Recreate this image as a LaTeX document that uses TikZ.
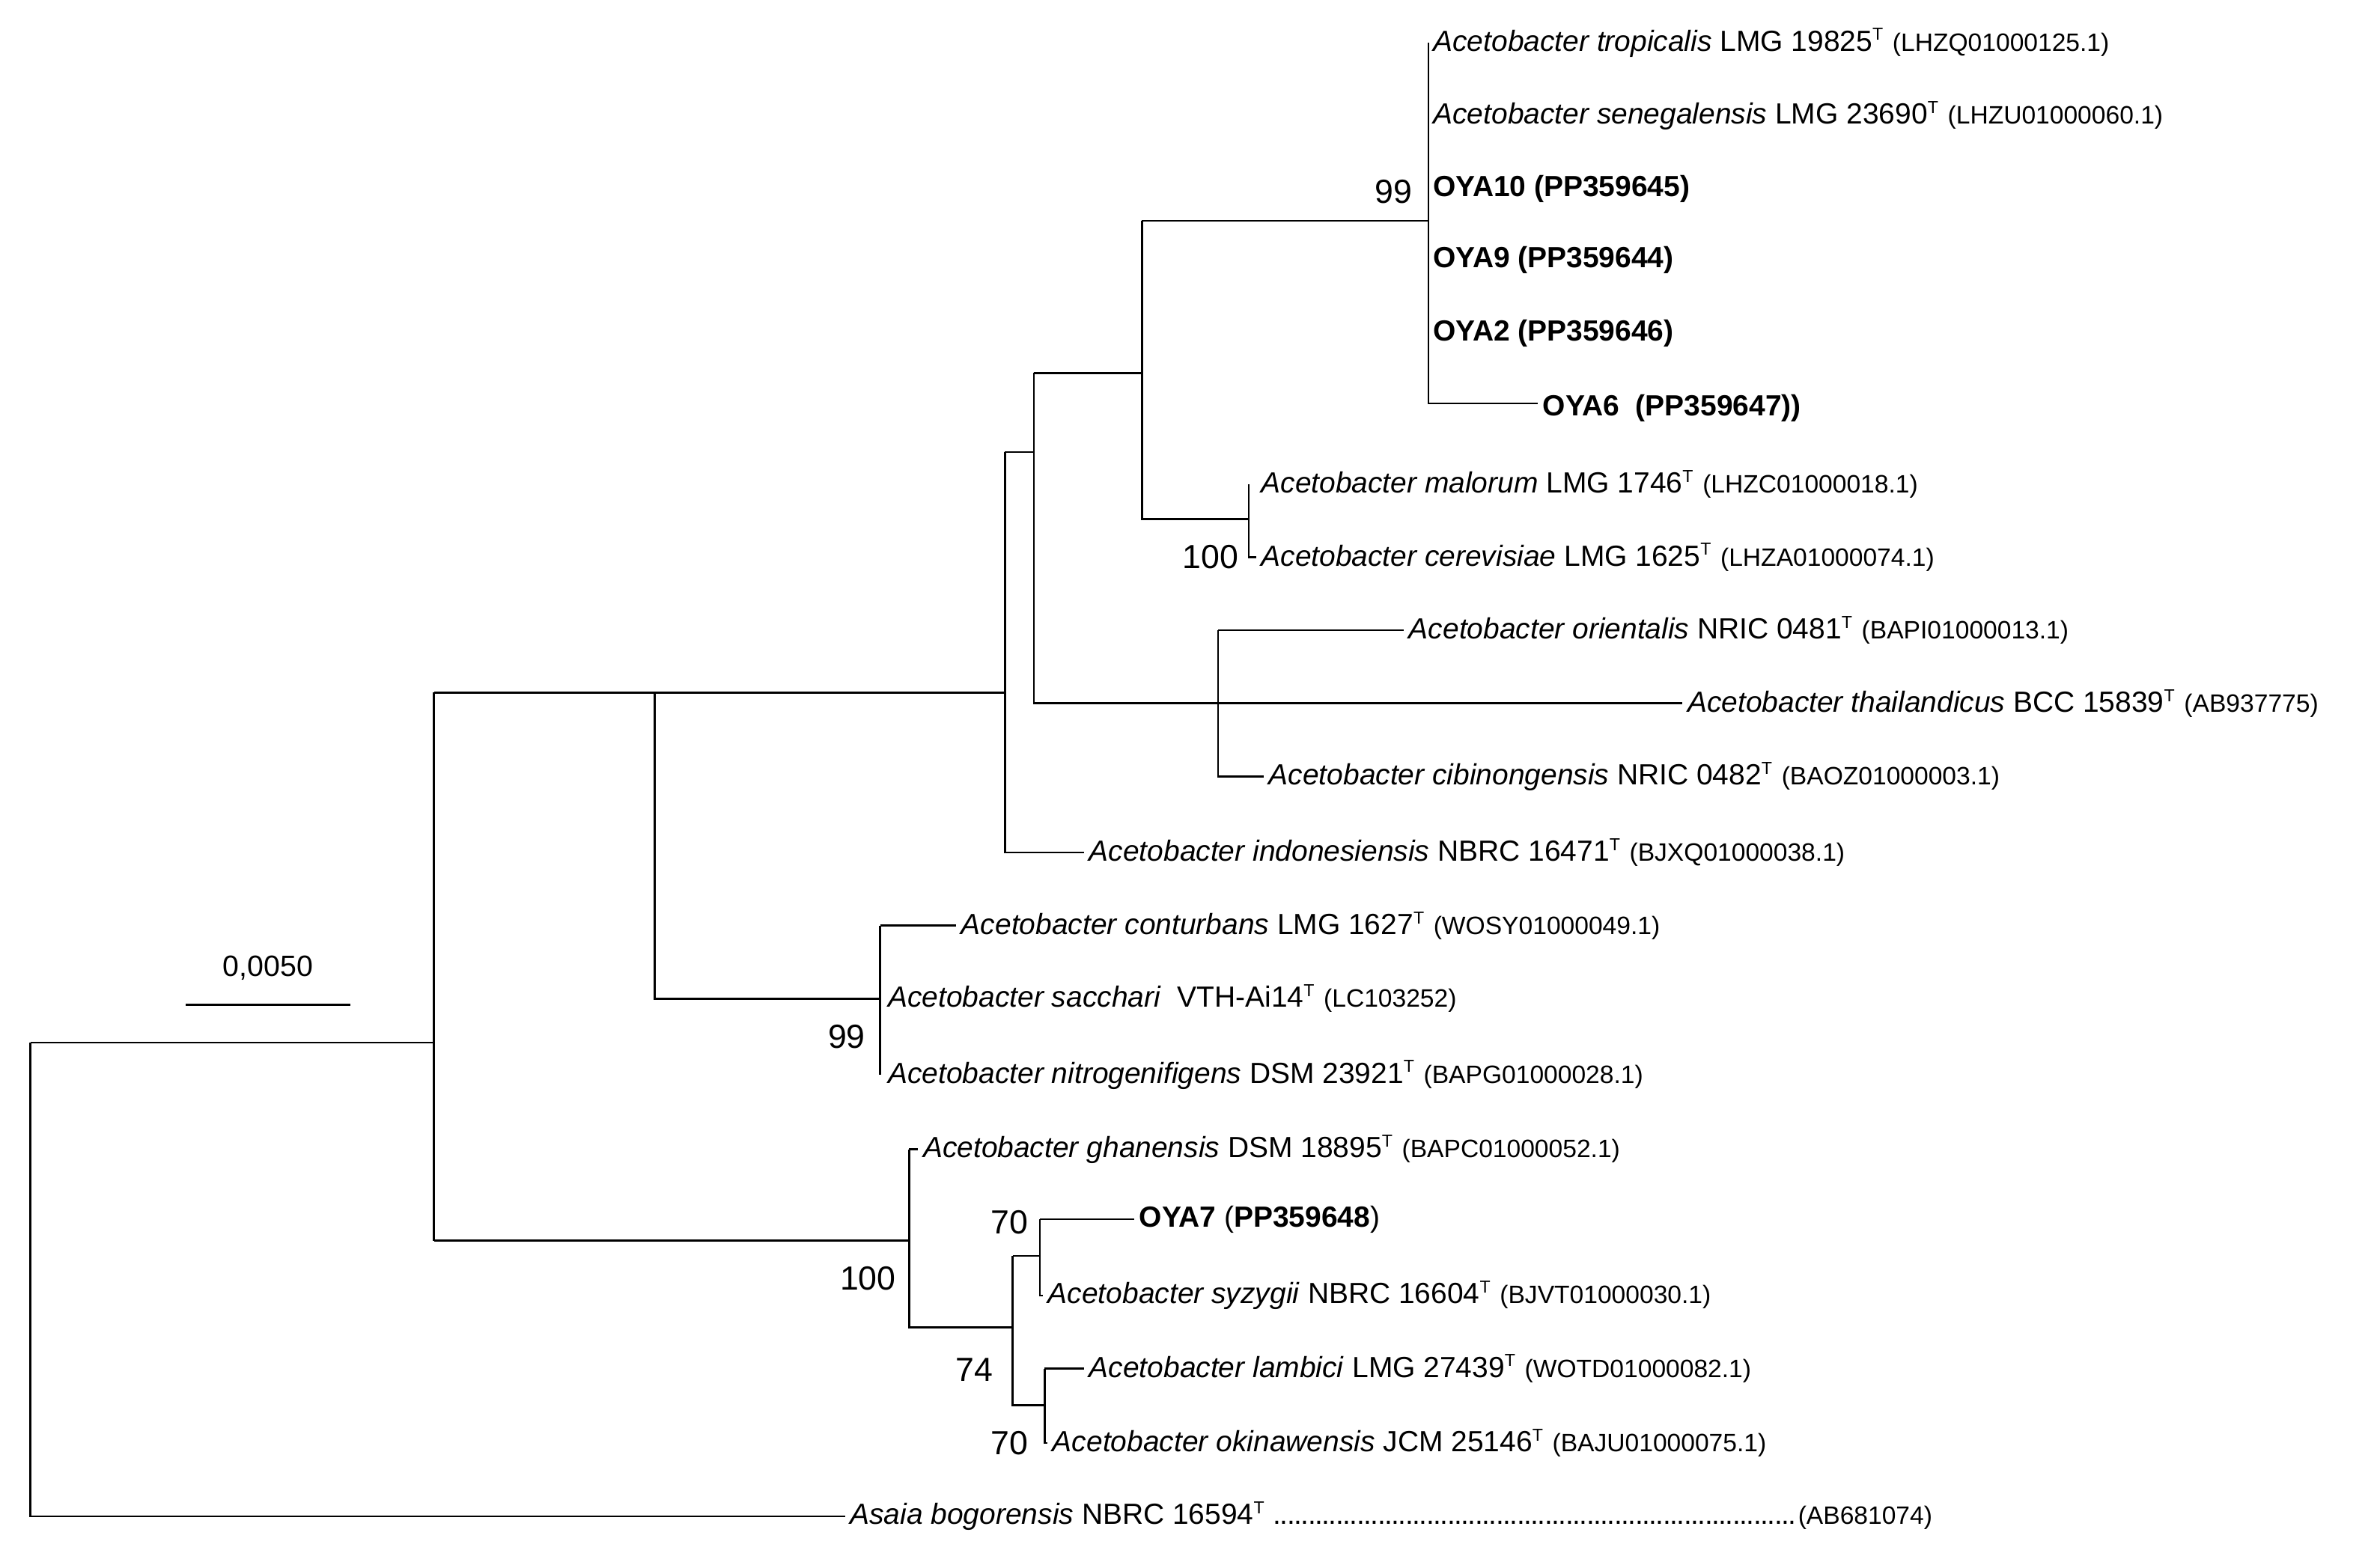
\documentclass[tikz,border=0pt]{standalone}
\usepackage{fontspec}
\setmainfont{Liberation Sans}
\begin{document}
\begin{tikzpicture}[x=0.02cm,y=-0.02cm,line width=0.7pt,
  lab/.style={anchor=west,inner sep=1.5pt,font=\fontsize{10.9}{12}\selectfont},
  bs/.style={font=\fontsize{12.5}{14}\selectfont,inner sep=1pt}]
\useasboundingbox (0,0) rectangle (1563,1028);
\newcommand{\acc}[1]{{\fontsize{9.4}{10}\selectfont(#1)}}
\newcommand{\Tm}{\textsuperscript{\fontsize{6.5}{7}\selectfont T}}
\newcommand{\dts}{\leaders\hbox to 2.6pt{\hss.\hss}\hfill}
% internal nodes
\coordinate (r1) at (20,685); \coordinate (r2) at (20,996);
\coordinate (a1) at (285,455); \coordinate (a2) at (285,815);
\coordinate (b1) at (430,455); \coordinate (b2) at (430,656);
\coordinate (c1) at (660,297); \coordinate (c2) at (660,560);
\coordinate (d1) at (679,245); \coordinate (d2) at (679,462);
\coordinate (e1) at (750,145); \coordinate (e2) at (750,341);
\coordinate (f1) at (938,28); \coordinate (f2) at (938,265);
\coordinate (g1) at (820,318); \coordinate (g2) at (820,366);
\coordinate (h1) at (800,414); \coordinate (h2) at (800,510);
\coordinate (s1) at (578,608); \coordinate (s2) at (578,706);
\coordinate (k1) at (597,755); \coordinate (k2) at (597,872);
\coordinate (m1) at (665,825); \coordinate (m2) at (665,923);
\coordinate (n1) at (683,801); \coordinate (n2) at (683,851);
\coordinate (p1) at (686,899); \coordinate (p2) at (686,948);
% leaves
\node[lab] (L1) at (938,28) {\textit{Acetobacter tropicalis} LMG 19825\Tm{} \acc{LHZQ01000125.1}};
\node[lab] (L2) at (938,76) {\textit{Acetobacter senegalensis} LMG 23690\Tm{} \acc{LHZU01000060.1}};
\node[lab] (L3) at (938,124) {\textbf{OYA10 (PP359645)}};
\node[lab] (L4) at (938,171) {\textbf{OYA9 (PP359644)}};
\node[lab] (L5) at (938,219) {\textbf{OYA2 (PP359646)}};
\node[lab] (L6) at (1010,268) {\textbf{OYA6\ \ (PP359647))}};
\node[lab] (L7) at (825,318) {\textit{Acetobacter malorum} LMG 1746\Tm{} \acc{LHZC01000018.1}};
\node[lab] (L8) at (825,366) {\textit{Acetobacter cerevisiae} LMG 1625\Tm{} \acc{LHZA01000074.1}};
\node[lab] (L9) at (922,414) {\textit{Acetobacter orientalis} NRIC 0481\Tm{} \acc{BAPI01000013.1}};
\node[lab] (L10) at (1105,462) {\textit{Acetobacter thailandicus} BCC 15839\Tm{} \acc{AB937775}};
\node[lab] (L11) at (830,510) {\textit{Acetobacter cibinongensis} NRIC 0482\Tm{} \acc{BAOZ01000003.1}};
\node[lab] (L12) at (712,560) {\textit{Acetobacter indonesiensis} NBRC 16471\Tm{} \acc{BJXQ01000038.1}};
\node[lab] (L13) at (628,608) {\textit{Acetobacter conturbans} LMG 1627\Tm{} \acc{WOSY01000049.1}};
\node[lab] (L14) at (580,656) {\textit{Acetobacter sacchari}\ \ VTH-Ai14\Tm{} \acc{LC103252}};
\node[lab] (L15) at (580,706) {\textit{Acetobacter nitrogenifigens} DSM 23921\Tm{} \acc{BAPG01000028.1}};
\node[lab] (L16) at (603,755) {\textit{Acetobacter ghanensis} DSM 18895\Tm{} \acc{BAPC01000052.1}};
\node[lab] (L17) at (745,801) {\textbf{OYA7} (\textbf{PP359648})};
\node[lab] (L18) at (685,851) {\textit{Acetobacter syzygii} NBRC 16604\Tm{} \acc{BJVT01000030.1}};
\node[lab] (L19) at (712,899) {\textit{Acetobacter lambici} LMG 27439\Tm{} \acc{WOTD01000082.1}};
\node[lab] (L20) at (688,948) {\textit{Acetobacter okinawensis} JCM 25146\Tm{} \acc{BAJU01000075.1}};
\node[lab] (L21) at (555,996) {\textit{Asaia bogorensis} NBRC 16594\Tm{} \hbox to 196pt{\dts}\acc{AB681074}};
% branches
\draw (r1) -- (r2) -- (L21.west);
\draw (r1) -- (285,685);
\draw (a1) -- (a2);
\draw (a1) -- (b1) -- (b2) -- (s1 |- b2);
\draw (b1) -- (c1 |- b1);
\draw (c1) -- (c2) -- (L12.west);
\draw (c1) -- (d1 |- c1);
\draw (d1) -- (d2) -- (h1 |- d2);
\draw (d1) -- (e1 |- d1);
\draw (e1) -- (e2) -- (g1 |- e2);
\draw (e1) -- (f1 |- e1);
\draw (f1) -- (f2) -- (L6.west |- f2);
\draw (g1) -- (g2) -- (L8.west);
\draw (h1) -- (h2) -- (L11.west);
\draw (h1) -- (L9.west);
\draw (h1 |- d2) -- (L10.west);
\draw (s1) -- (s2);
\draw (s1) -- (L13.west);
\draw (a2) -- (k1 |- a2);
\draw (k1) -- (k2) -- (m1 |- k2);
\draw (k1) -- (L16.west);
\draw (m1) -- (m2) -- (p1 |- m2);
\draw (m1) -- (n1 |- m1);
\draw (n1) -- (n2) -- (L18.west);
\draw (n1) -- (L17.west);
\draw (p1) -- (p2) -- (L20.west);
\draw (p1) -- (L19.west);
% bootstrap
\node[bs] (bs1) at (915,126) {99};
\node[bs] (bs2) at (795,366) {100};
\node[bs] (bs3) at (556,681) {99};
\node[bs] (bs4) at (570,840) {100};
\node[bs] (bs5) at (663,803) {70};
\node[bs] (bs6) at (640,900) {74};
\node[bs] (bs7) at (663,948) {70};
% scale
\coordinate (sb1) at (122,660); \coordinate (sb2) at (230,660);
\draw (sb1) -- (sb2);
\node[font=\fontsize{11}{12}\selectfont] (sbl) at (176,636) {0,0050};
\end{tikzpicture}
\end{document}
